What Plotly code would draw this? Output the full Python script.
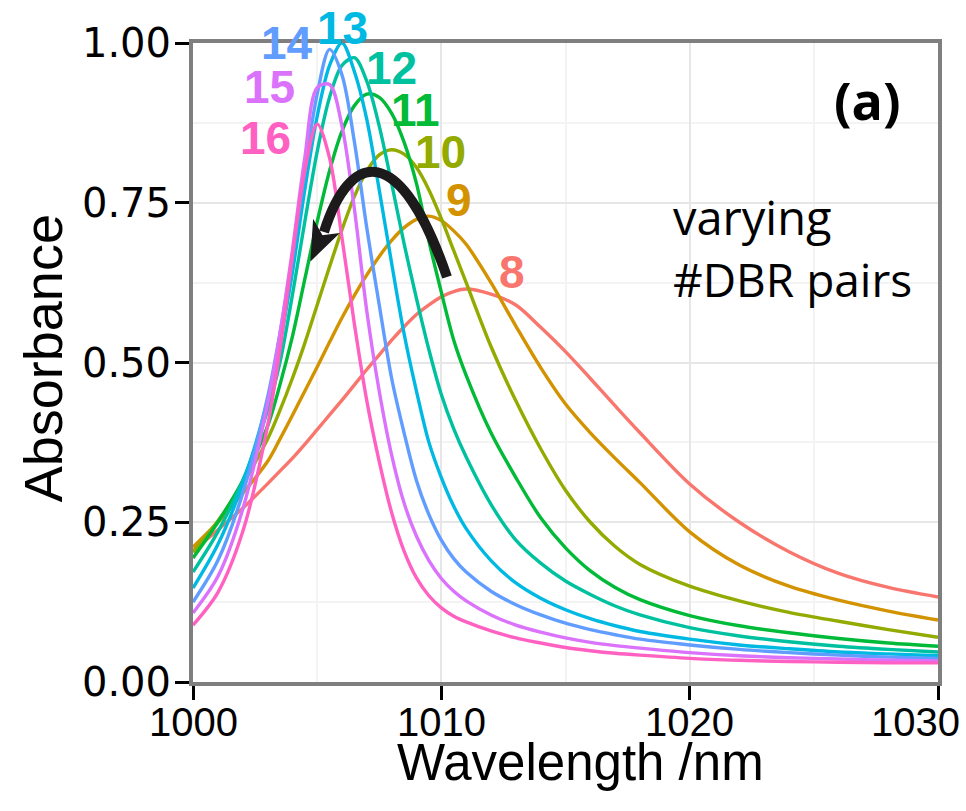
import plotly.graph_objects as go

# Wavelength sampling grid (nm)
wavelength = [1000, 1001, 1002, 1003, 1003.5, 1004, 1004.5, 1005, 1005.5, 1006,
              1006.5, 1007, 1007.5, 1008, 1008.5, 1009, 1009.5, 1010, 1010.5, 1011,
              1012, 1013, 1014, 1015, 1016, 1017, 1018, 1020, 1022, 1024, 1026, 1028, 1030]

# Absorbance spectra, one per number of DBR pairs
abs_8 = [0.205, 0.238, 0.272, 0.310, 0.330, 0.350, 0.372, 0.395, 0.418, 0.441,
         0.465, 0.489, 0.512, 0.535, 0.556, 0.575, 0.590, 0.603, 0.611, 0.615,
         0.607, 0.590, 0.555, 0.517, 0.475, 0.432, 0.390, 0.310, 0.250, 0.204, 0.170, 0.148, 0.133]
abs_9 = [0.211, 0.250, 0.295, 0.345, 0.380, 0.417, 0.455, 0.493, 0.532, 0.570,
         0.605, 0.637, 0.666, 0.691, 0.711, 0.724, 0.729, 0.722, 0.706, 0.685,
         0.625, 0.557, 0.492, 0.435, 0.390, 0.350, 0.312, 0.235, 0.183, 0.150, 0.128, 0.111, 0.097]
abs_10 = [0.203, 0.252, 0.310, 0.380, 0.425, 0.475, 0.530, 0.590, 0.650, 0.708,
          0.760, 0.800, 0.825, 0.833, 0.826, 0.805, 0.770, 0.725, 0.675, 0.625,
          0.525, 0.440, 0.365, 0.300, 0.250, 0.212, 0.184, 0.150, 0.127, 0.109, 0.095, 0.082, 0.070]
abs_11 = [0.194, 0.250, 0.315, 0.400, 0.465, 0.540, 0.630, 0.720, 0.800, 0.862,
          0.902, 0.920, 0.915, 0.890, 0.845, 0.780, 0.690, 0.610, 0.535, 0.480,
          0.390, 0.320, 0.257, 0.210, 0.174, 0.148, 0.129, 0.104, 0.088, 0.077, 0.068, 0.061, 0.056]
abs_12 = [0.172, 0.235, 0.315, 0.425, 0.500, 0.605, 0.720, 0.830, 0.915, 0.965,
          0.977, 0.940, 0.870, 0.780, 0.686, 0.600, 0.520, 0.450, 0.396, 0.352,
          0.278, 0.222, 0.186, 0.158, 0.137, 0.119, 0.105, 0.085, 0.072, 0.063, 0.056, 0.051, 0.047]
abs_13 = [0.147, 0.215, 0.310, 0.440, 0.530, 0.640, 0.770, 0.885, 0.965, 1.000,
          0.955, 0.880, 0.770, 0.655, 0.545, 0.455, 0.375, 0.320, 0.275, 0.240,
          0.190, 0.155, 0.131, 0.113, 0.099, 0.088, 0.079, 0.067, 0.058, 0.052, 0.047, 0.044, 0.041]
abs_14 = [0.125, 0.190, 0.295, 0.445, 0.545, 0.665, 0.800, 0.920, 0.990, 0.950,
          0.845, 0.710, 0.590, 0.475, 0.390, 0.315, 0.262, 0.222, 0.193, 0.172,
          0.142, 0.121, 0.105, 0.092, 0.082, 0.074, 0.067, 0.058, 0.051, 0.046, 0.042, 0.039, 0.037]
abs_15 = [0.108, 0.165, 0.270, 0.435, 0.545, 0.675, 0.820, 0.930, 0.935, 0.870,
          0.740, 0.580, 0.455, 0.355, 0.280, 0.228, 0.190, 0.162, 0.142, 0.127,
          0.105, 0.089, 0.078, 0.069, 0.062, 0.057, 0.053, 0.046, 0.041, 0.038, 0.036, 0.034, 0.033]
abs_16 = [0.089, 0.140, 0.235, 0.400, 0.520, 0.665, 0.800, 0.873, 0.820, 0.695,
          0.560, 0.440, 0.345, 0.265, 0.205, 0.163, 0.135, 0.116, 0.103, 0.094,
          0.080, 0.069, 0.061, 0.054, 0.049, 0.045, 0.042, 0.037, 0.034, 0.032, 0.031, 0.030, 0.030]

pairs = ["8", "9", "10", "11", "12", "13", "14", "15", "16"]
spectra = [abs_8, abs_9, abs_10, abs_11, abs_12, abs_13, abs_14, abs_15, abs_16]
colors = ["#F8766D", "#D39200", "#93AA00", "#00BA38", "#00C19F",
          "#00B9E3", "#619CFF", "#DB72FB", "#FF61C3"]

# Where each curve's pair-count label sits (wavelength, absorbance)
label_x = [1012.85, 1010.71, 1009.95, 1008.94, 1008.01, 1006.04, 1003.79, 1003.10, 1002.90]
label_y = [0.642, 0.754, 0.829, 0.895, 0.961, 1.024, 1.000, 0.931, 0.851]

x_range = [1000, 1030]
y_range = [0.0, 1.0]
x_ticks = [1000, 1010, 1020, 1030]
y_ticks = [0.0, 0.25, 0.5, 0.75, 1.0]
y_ticklabels = ["0.00", "0.25", "0.50", "0.75", "1.00"]

FIG_W, FIG_H = 966, 811
MARGIN = dict(l=193, r=28, t=43, b=129)
PLOT_W = FIG_W - MARGIN["l"] - MARGIN["r"]
PLOT_H = FIG_H - MARGIN["t"] - MARGIN["b"]


def to_paper(x, y):
    """Map a (wavelength, absorbance) position to paper coordinates."""
    px = (x - x_range[0]) / (x_range[1] - x_range[0])
    py = (y - y_range[0]) / (y_range[1] - y_range[0])
    return px, py


fig = go.Figure()
for name, ys, col in zip(pairs, spectra, colors):
    fig.add_trace(go.Scatter(
        x=wavelength, y=ys, mode="lines", name=name,
        line=dict(color=col, width=3.4, shape="spline", smoothing=0.9),
        showlegend=False,
    ))

annotations = []
for name, lx, ly, col in zip(pairs, label_x, label_y, colors):
    px, py = to_paper(lx, ly)
    annotations.append(dict(
        x=px, y=py, xref="paper", yref="paper", text=f"<b>{name}</b>", showarrow=False,
        font=dict(family="Liberation Sans, Arial, sans-serif", size=46, color=col),
        xanchor="center", yanchor="middle",
    ))

# x tick labels, kept inside the page at the right-hand edge
tick_font = dict(family="Liberation Sans, Arial, sans-serif", size=40, color="black")
for t in x_ticks:
    px, _ = to_paper(t, 0)
    right_px = MARGIN["l"] + px * PLOT_W + 44
    if right_px > FIG_W - 4:
        px_anchor = (FIG_W - 4 - MARGIN["l"]) / PLOT_W
        annotations.append(dict(x=px_anchor, y=-40 / PLOT_H, xref="paper", yref="paper",
                                text=str(t), showarrow=False, font=tick_font,
                                xanchor="right", yanchor="middle"))
    else:
        annotations.append(dict(x=px, y=-40 / PLOT_H, xref="paper", yref="paper",
                                text=str(t), showarrow=False, font=tick_font,
                                xanchor="center", yanchor="middle"))

text_font = "Open Sans, sans-serif"
annotations += [
    dict(x=0.906, y=0.911, xref="paper", yref="paper", text="<b>(a)</b>", showarrow=False,
         font=dict(family=text_font, size=52, color="black"), xanchor="center", yanchor="middle"),
    dict(x=0.641, y=0.728, xref="paper", yref="paper", text="varying", showarrow=False,
         font=dict(family=text_font, size=47, color="black"), xanchor="left", yanchor="middle"),
    dict(x=0.641, y=0.630, xref="paper", yref="paper", text="#DBR pairs", showarrow=False,
         font=dict(family=text_font, size=46, color="black"), xanchor="left", yanchor="middle"),
    # axis titles
    dict(x=0.5195, y=-0.126, xref="paper", yref="paper", text="Wavelength /nm", showarrow=False,
         font=dict(family="Liberation Sans, Arial, sans-serif", size=51, color="black"),
         xanchor="center", yanchor="middle"),
    dict(x=-0.201, y=0.507, xref="paper", yref="paper", text="Absorbance", showarrow=False,
         textangle=-90,
         font=dict(family="Liberation Sans, Arial, sans-serif", size=54, color="black"),
         xanchor="center", yanchor="middle"),
]

# Curved arrow showing the direction of increasing DBR pair count
arc_path = "M 1010.228,0.6338 C 1008.336,0.8482 1006.322,0.8326 1005.275,0.7042"
head_path = "M 1004.760,0.6610 L 1005.830,0.7011 L 1005.195,0.6980 L 1004.860,0.7210 Z"
shapes = [
    dict(type="path", path=arc_path, xref="x", yref="y",
         line=dict(color="#1c1a1b", width=10)),
    dict(type="path", path=head_path, xref="x", yref="y",
         fillcolor="#1c1a1b", line=dict(color="#1c1a1b", width=1.5)),
]

fig.update_layout(
    width=FIG_W, height=FIG_H,
    margin=dict(**MARGIN, autoexpand=False),
    paper_bgcolor="white", plot_bgcolor="white",
    annotations=annotations, shapes=shapes,
)

fig.update_xaxes(
    range=x_range, tickvals=x_ticks, showticklabels=False,
    showgrid=True, gridcolor="#e6e6e6", gridwidth=2,
    minor=dict(dtick=5, tick0=1000, showgrid=True, gridcolor="#f3f3f3", gridwidth=2, ticks=""),
    showline=True, linecolor="#7f7f7f", linewidth=4, mirror=True,
    ticks="outside", ticklen=14, tickwidth=3, tickcolor="black",
    zeroline=False, automargin=False,
)
fig.update_yaxes(
    range=y_range, tickvals=y_ticks, ticktext=y_ticklabels,
    showgrid=True, gridcolor="#e6e6e6", gridwidth=2,
    minor=dict(dtick=0.125, tick0=0, showgrid=True, gridcolor="#f3f3f3", gridwidth=2, ticks=""),
    showline=True, linecolor="#7f7f7f", linewidth=4, mirror=True,
    ticks="outside", ticklen=14, tickwidth=3, tickcolor="black",
    ticklabelstandoff=-4, ticklabeloverflow="allow",
    tickfont=dict(family="DejaVu Sans, Liberation Sans, Arial", size=40, color="black"),
    zeroline=False, automargin=False,
)

fig.write_html("out.html")
